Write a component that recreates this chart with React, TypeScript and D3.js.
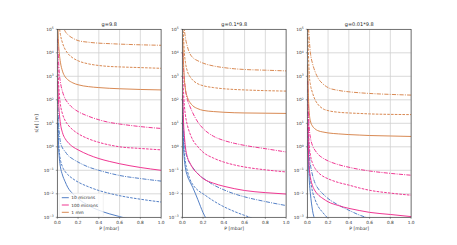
import * as d3 from 'd3';

// pressure samples (mbar) shared by every curve
const pGrid = [0.005, 0.01, 0.02, 0.03, 0.05, 0.075, 0.1, 0.15, 0.2, 0.3, 0.4, 0.5, 0.6, 0.8, 1.0];

const panelTitles = ['g=9.8', 'g=0.1*9.8', 'g=0.01*9.8'];
const sizeLabels = ['10 microns', '100 microns', '1 mm'];
const xTicks = [0, 0.2, 0.4, 0.6, 0.8, 1.0];
const yTickExps = [-3, -2, -1, 0, 1, 2, 3, 4, 5];

// log10 of s [m] at pGrid
// g = 9.8
const blueSolidG1 = [1.0, 0.2, -0.5, -0.85, -1.2, -1.48, -1.72, -2.0, -2.2, -2.5, -2.7, -2.85, -2.97, -3.2, -3.4];
const blueDashG1 = [1.2, 0.48, -0.23, -0.55, -0.85, -1.05, -1.18, -1.36, -1.5, -1.7, -1.86, -1.98, -2.08, -2.23, -2.35];
const blueDotG1 = [2.0, 1.3, 0.55, 0.2, -0.05, -0.2, -0.35, -0.52, -0.65, -0.86, -1.0, -1.12, -1.22, -1.35, -1.46];
const pinkSolidG1 = [2.8, 2.15, 1.4, 1.0, 0.6, 0.35, 0.2, 0.0, -0.13, -0.34, -0.5, -0.62, -0.72, -0.88, -1.0];
const pinkDashG1 = [3.6, 2.95, 2.2, 1.8, 1.4, 1.12, 0.95, 0.72, 0.56, 0.34, 0.19, 0.08, 0.0, -0.07, -0.13];
const pinkDotG1 = [4.6, 3.9, 3.1, 2.75, 2.35, 2.05, 1.88, 1.65, 1.5, 1.3, 1.15, 1.04, 0.97, 0.86, 0.78];
const orangeSolidG1 = [5.3, 4.6, 3.95, 3.6, 3.22, 2.98, 2.86, 2.72, 2.64, 2.56, 2.52, 2.49, 2.47, 2.44, 2.42];
const orangeDashG1 = [6.3, 5.7, 5.1, 4.78, 4.42, 4.15, 3.98, 3.78, 3.66, 3.53, 3.46, 3.42, 3.4, 3.37, 3.34];
const orangeDotG1 = [7.2, 6.6, 6.0, 5.6, 5.2, 4.92, 4.78, 4.62, 4.52, 4.45, 4.41, 4.39, 4.37, 4.34, 4.32];

// g = 0.1*9.8
const blueSolidG2 = [1.2, 0.2, -0.55, -0.9, -1.25, -1.5, -1.72, -2.25, -2.8, -3.5, -4, -4, -4, -4, -4];
const blueDashG2 = [1.5, 0.5, -0.3, -0.65, -1.05, -1.4, -1.6, -1.85, -2.0, -2.3, -2.55, -2.75, -2.92, -3.2, -3.4];
const blueDotG2 = [2.0, 1.0, 0.2, -0.15, -0.5, -0.72, -0.88, -1.15, -1.33, -1.62, -1.83, -2.0, -2.13, -2.33, -2.5];
const pinkSolidG2 = [2.2, 1.3, 0.48, 0.0, -0.45, -0.7, -0.9, -1.15, -1.35, -1.55, -1.68, -1.78, -1.86, -1.95, -2.01];
const pinkDashG2 = [3.0, 2.5, 1.75, 1.35, 0.9, 0.55, 0.3, 0.0, -0.23, -0.48, -0.65, -0.77, -0.86, -0.98, -1.07];
const pinkDotG2 = [4.0, 3.5, 2.87, 2.45, 2.0, 1.7, 1.45, 1.05, 0.78, 0.45, 0.27, 0.15, 0.06, -0.08, -0.22];
const orangeSolidG2 = [4.6, 3.8, 2.87, 2.45, 2.1, 1.88, 1.75, 1.62, 1.55, 1.5, 1.47, 1.45, 1.44, 1.43, 1.42];
const orangeDashG2 = [5.6, 4.9, 4.0, 3.6, 3.2, 2.98, 2.84, 2.68, 2.6, 2.52, 2.47, 2.44, 2.42, 2.39, 2.37];
const orangeDotG2 = [6.5, 5.8, 5.0, 4.65, 4.25, 3.95, 3.8, 3.66, 3.56, 3.44, 3.37, 3.32, 3.29, 3.26, 3.23];

// g = 0.01*9.8
const blueSolidG3 = [0.2, -0.6, -1.5, -2.0, -2.7, -3.15, -3.5, -4, -4, -4, -4, -4, -4, -4, -4];
const blueDashG3 = [0.8, -0.1, -1.0, -1.4, -1.9, -2.25, -2.5, -2.8, -3.05, -3.5, -4, -4, -4, -4, -4];
const blueDotG3 = [1.5, 0.6, -0.35, -0.75, -1.2, -1.55, -1.75, -2.0, -2.2, -2.48, -2.7, -2.9, -3.05, -3.3, -3.5];
const pinkSolidG3 = [1.0, 0.0, -0.95, -1.3, -1.65, -1.88, -2.02, -2.2, -2.34, -2.5, -2.62, -2.71, -2.79, -2.88, -2.97];
const pinkDashG3 = [2.0, 1.0, 0.0, -0.35, -0.7, -0.92, -1.07, -1.25, -1.36, -1.52, -1.63, -1.75, -1.85, -1.97, -2.06];
const pinkDotG3 = [2.8, 1.8, 0.75, 0.4, 0.05, -0.15, -0.3, -0.48, -0.6, -0.76, -0.87, -0.96, -1.03, -1.13, -1.21];
const orangeSolidG3 = [3.5, 2.3, 1.4, 1.1, 0.88, 0.76, 0.69, 0.63, 0.59, 0.55, 0.52, 0.5, 0.48, 0.46, 0.44];
const orangeDashG3 = [5.0, 4.1, 3.0, 2.65, 2.3, 2.0, 1.82, 1.62, 1.54, 1.47, 1.44, 1.42, 1.4, 1.38, 1.37];
const orangeDotG3 = [6.0, 5.3, 4.5, 4.0, 3.55, 3.2, 2.95, 2.68, 2.52, 2.4, 2.34, 2.3, 2.27, 2.23, 2.2];

const colors = ['#4a78c2', '#ee2c8c', '#d6834a'];
const dashes = ['none', '2.6,1.2', '4.2,1.2,1,1.2'];

const panels = [
  [[blueSolidG1, blueDashG1, blueDotG1], [pinkSolidG1, pinkDashG1, pinkDotG1], [orangeSolidG1, orangeDashG1, orangeDotG1]],
  [[blueSolidG2, blueDashG2, blueDotG2], [pinkSolidG2, pinkDashG2, pinkDotG2], [orangeSolidG2, orangeDashG2, orangeDotG2]],
  [[blueSolidG3, blueDashG3, blueDotG3], [pinkSolidG3, pinkDashG3, pinkDotG3], [orangeSolidG3, orangeDashG3, orangeDotG3]],
];

const W = 457;
const H = 245;
const panelLefts = [57.3, 182.3, 307.3];
const panelW = 103.8;
const top = 29.3;
const bottom = 217.3;
const font = 'DejaVu Sans, sans-serif';

const y = d3.scaleLog().domain([1e-3, 1e5]).range([bottom, top]);

const Panel = ({ idx }: { idx: number }) => {
  const left = panelLefts[idx];
  const x = d3.scaleLinear().domain([0, 1]).range([left, left + panelW]);
  const line = d3.line<number>()
    .x((_, i) => x(pGrid[i]))
    .y(v => y(Math.pow(10, v)))
    .curve(d3.curveMonotoneX);
  const clipId = `clip${idx}`;

  return (
    <g>
      <clipPath id={clipId}>
        <rect x={left} y={top} width={panelW} height={bottom - top} />
      </clipPath>
      {/* grid */}
      {xTicks.map(t => (
        <line key={'gx' + t} x1={x(t)} x2={x(t)} y1={top} y2={bottom} stroke="#d0d0d0" strokeWidth={0.8} />
      ))}
      {yTickExps.map(e => (
        <line key={'gy' + e} x1={left} x2={left + panelW} y1={y(Math.pow(10, e))} y2={y(Math.pow(10, e))} stroke="#d0d0d0" strokeWidth={0.8} />
      ))}
      {/* curves */}
      <g clipPath={`url(#${clipId})`}>
        {panels[idx].map((group, ci) =>
          group.map((vals, si) => (
            <path key={`${ci}-${si}`} d={line(vals) || ''} fill="none" stroke={colors[ci]}
              strokeWidth={0.95} strokeDasharray={dashes[si]} />
          ))
        )}
      </g>
      {/* frame */}
      <rect x={left} y={top} width={panelW} height={bottom - top} fill="none" stroke="#333" strokeWidth={0.6} />
      {/* x ticks */}
      {xTicks.map(t => (
        <g key={'xt' + t}>
          <line x1={x(t)} x2={x(t)} y1={bottom} y2={bottom + 1.5} stroke="#333" strokeWidth={0.5} />
          <text x={x(t)} y={bottom + 6.2} textAnchor="middle" fontSize={4.3} fontFamily={font} fill="#333">
            {t.toFixed(1)}
          </text>
        </g>
      ))}
      {/* y ticks */}
      {yTickExps.map(e => (
        <g key={'yt' + e}>
          <line x1={left - 1.5} x2={left} y1={y(Math.pow(10, e))} y2={y(Math.pow(10, e))} stroke="#333" strokeWidth={0.5} />
          <text x={left - 3.5} y={y(Math.pow(10, e)) + 1.5} textAnchor="end" fontSize={4.3} fontFamily={font} fill="#333">
            10<tspan dy={-1.8} fontSize={3.1}>{e < 0 ? '\u2212' + Math.abs(e) : e}</tspan>
          </text>
        </g>
      ))}
      <text x={left + panelW / 2} y={top - 3.2} textAnchor="middle" fontSize={5} fontFamily={font} fill="#222">
        {panelTitles[idx]}
      </text>
      <text x={left + panelW / 2} y={bottom + 13} textAnchor="middle" fontSize={4.6} fontFamily={font} fill="#333">
        P [mbar]
      </text>
    </g>
  );
};

const Legend = () => {
  const lx = panelLefts[0];
  const rows = [197.7, 205, 212.3];
  return (
    <g>
      <rect x={lx + 2} y={rows[0] - 4.5} width={44} height={23.5} rx={1} fill="white" fillOpacity={0.8} stroke="#ddd" strokeWidth={0.4} />
      {sizeLabels.map((s, i) => (
        <g key={s}>
          <line x1={lx + 4.5} x2={lx + 11.5} y1={rows[i]} y2={rows[i]} stroke={colors[i]} strokeWidth={0.95} />
          <text x={lx + 14} y={rows[i] + 1.5} fontSize={4.3} fontFamily={font} fill="#333">{s}</text>
        </g>
      ))}
    </g>
  );
};

export default function App() {
  return (
    <svg width={W} height={H} style={{ position: 'absolute', left: 0, top: 0, background: 'white' }}>
      {[0, 1, 2].map(i => <Panel key={i} idx={i} />)}
      <Legend />
      <text transform={`translate(38,${(top + bottom) / 2}) rotate(-90)`} textAnchor="middle" fontSize={4.6} fontFamily={font} fill="#333">
        s[e] [m]
      </text>
    </svg>
  );
}
